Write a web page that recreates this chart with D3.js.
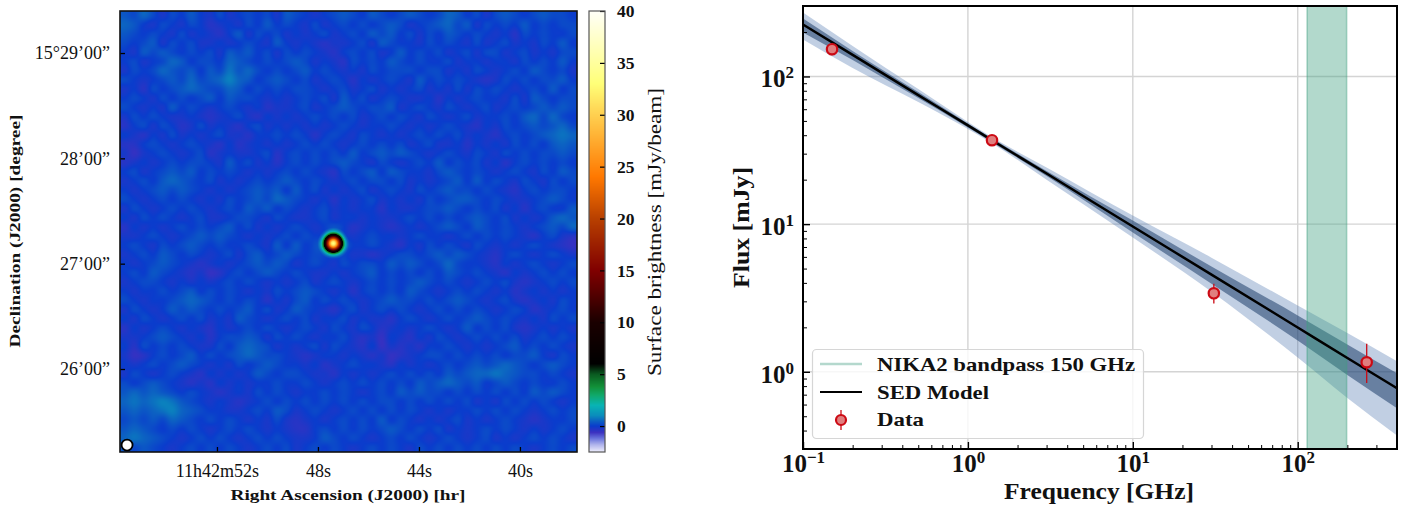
<!DOCTYPE html>
<html><head><meta charset="utf-8">
<script src="https://cdnjs.cloudflare.com/ajax/libs/d3/7.8.5/d3.min.js"></script>
<style>html,body{margin:0;padding:0;background:#fff;overflow:hidden}svg{display:block}text{font-family:"Liberation Serif",serif;fill:#111}</style>
</head><body><svg id="c" width="1415" height="508"></svg>
<script>
// ---- map panel data ----
const raTickSeconds=[52,48,44,40];
const raTickLabels=["11h42m52s","48s","44s","40s"];
const decTickMinutes=[29,28,27,26];
const decTickLabels=["15°29’00”","28’00”","27’00”","26’00”"];
const raExtent=[55.84,37.74];
const decExtent=[29.399,25.212];
const sourceRA=47.39, sourceDec=27.193;
const beamRA=55.56, beamDec=25.278;
const sourceRadiusArcsec=[0,0.57,1.14,1.71,2.28,2.85,3.42,3.99,4.56,5.13,5.7,6.27,6.84,7.41,7.98,9.12,12];
const sourceProfile=[33.5,32.5,31,27.5,24,20,16.5,12.5,9,6.5,4.4,2.9,1.8,1.1,.6,.1,0];
const barTicks=[0,5,10,15,20,25,30,35,40];
const barExtent=[-2.5,40];
const cmapValues=[-2.5,-1.8,-1.2,-0.6,0,0.5,1,2,3,3.8,5,6,10,13,15,20,24,30,33,36,40];
const cmapColors=["#eeeefc","#b0b4ec","#6a74dc","#3a30c0","#0a3ccc","#0c62c2","#0a8cbc","#08b4b4","#10a868","#129038","#0a5a20","#000000","#1a0000","#5a0000","#800000","#b84000","#ff7800","#ffd050","#ffff78","#ffffb0","#fffff8"];
// background brightness read by eye, one digit per cell; digit 3 is 0 mJy/beam, one step is mapStep mJy/beam
const mapRows=[
"546424353242343425432345435434543465342454345443",
"653243243123243534324234343454234564524343534344",
"543432423213524342323423435453424354343231434334",
"434524342232343253232122342543324343242342324353",
"325454343425453424343213434235343423424423423244",
"342346534436543434542321434354343342332332434353",
"243465453547564343453432324344434423243234354342",
"432345464568653454342343132343253434321243434453",
"231434565446534343443234234232342324243432343534",
"343243434535443232343425342343223132343324254344",
"432325343234323122342345434452343243234234345454",
"243432232123421323234343423434324323423343564643",
"134243124232134232323234323343232343213243454564",
"321324232342213343431343243232343434232134345676",
"113432343213123232343432343434234223132324343565",
"202343234123223413434343534545432343243243434454",
"123234344325342313434345432432343534342313434343",
"342345453434323234343214345354332454343234324354",
"234356543423234345434323434434232345353432432434",
"323454543232345453534232342343243454434321343443",
"432343432324345465432313234232324345543432234543",
"243234343234354534323423233132234454343423134335",
"324343234223443243223423323223434343454342323565",
"132323434345342323432343123212323454354343234546",
"223432345454323234343232234332343323434343213421",
"343243454343343253534434334321324343243232343210",
"234354343234245345434323221234434545432134323432",
"323454321232345454234324344354543464332132343234",
"343543212013434543432232345343434354343213234343",
"234432323234343232342343234343454343234342123434",
"323343453434323243454323134343543234343231232323",
"432334565434343132453434323454434345432342123243",
"243235454343453423543213423434323434343234312343",
"324323434232543234342334232213432343454343232434",
"132343232132343432343243243123234323534342123232",
"223454323134454243432334212032132432343434234343",
"314343432243565423234243213021213343232345343432",
"201343453434565443212332321201234434343434453243",
"323434543232434543323123433213232343454565434543",
"243234321323235434432213232343434354566765443432",
"434543212132323343343234343434354565453454343343",
"565654343212324343233434323435454434343434354543",
"676787543232123434343434343443434343423243434323",
"565678654332234354234323434343432323343434323434",
"454546543434323242123234343534323234232343212334",
"565434343234343232113434343454343423234343232343",
"676543234343234343223543432343432343234232343432",
"545432343434323434234343234343243434343434323434"];
const mapStep=0.17, mapZeroDigit=3;
// ---- SED panel data ----
const sedFreq=[0.1,0.2,0.5,1,1.4,3,10,30,100,200,400];
const modelFlux=[225,139.9,74.8,46.6,37,22.0,9.64,4.55,1.995,1.241,0.773];
const outerHi=[271.4,161,82.1,49.2,38.8,24.2,11.44,5.93,2.81,1.83,1.178];
const outerLo=[178.1,114.2,67.1,44.1,35.3,20.0,8.12,3.49,1.249,.665,.371];
const innerHi=[247,148.9,78.4,48.1,38.2,22.9,10.58,5.16,2.41,1.53,.976];
const innerLo=[198.6,129.4,71.4,45.2,35.9,21.2,8.78,3.95,1.63,.952,.566];
const dataFreq=[0.15,1.4,31,262];
const dataFlux=[153,37,3.4,1.16];
const dataLo=[139,35,2.9,0.84];
const dataHi=[168,39,3.95,1.55];
const bandpass=[114,198];
const sedXDomain=[0.1,400], sedYDomain=[0.3,300];
const xMajor=[0.1,1,10,100], xExp=[-1,0,1,2];
const yMajor=[1,10,100], yExp=[0,1,2];
const legendLabels=["NIKA2 bandpass 150 GHz","SED Model","Data"];

const svg=d3.select("#c");
// ---------- MAP ----------
const M={l:120,r:577,t:11,b:452};
const xRA=d3.scaleLinear().domain(raExtent).range([M.l,M.r]);
const yDec=d3.scaleLinear().domain(decExtent).range([M.t,M.b]);
const cmap=d3.scaleLinear().domain(cmapValues).range(cmapColors).interpolate(d3.interpolateRgb).clamp(true);
const srcScale=d3.scaleLinear().domain(sourceRadiusArcsec).range(sourceProfile).clamp(true);
const mapGrid=mapRows.map(r=>Array.from(r,c=>(+c-mapZeroDigit)*mapStep));
const n=mapGrid.length;
function cr(a,b,c,d,t){return b+0.5*t*(c-a+t*(2*a-5*b+4*c-d+t*(3*(b-c)+d-a)));}
function bg(u,v){
  const i=Math.floor(v),j=Math.floor(u),ft=v-i,fu=u-j,g=(r,c)=>mapGrid[Math.max(0,Math.min(n-1,r))][Math.max(0,Math.min(n-1,c))];
  const row=[];for(let a=-1;a<3;a++)row.push(cr(g(i+a,j-1),g(i+a,j),g(i+a,j+1),g(i+a,j+2),fu));
  return cr(row[0],row[1],row[2],row[3],ft);
}
const W=M.r-M.l,H=M.b-M.t;
const cv=document.createElement("canvas");cv.width=W;cv.height=H;
const ctx=cv.getContext("2d"),im=ctx.createImageData(W,H);
const sx=xRA(sourceRA)-M.l,sy=yDec(sourceDec)-M.t;
const pxPerArcsec=(yDec(26)-yDec(27))/60;
const gx=d3.scaleLinear().domain([0,W]).range([-0.5,n-0.5]),gy=d3.scaleLinear().domain([0,H]).range([-0.5,n-0.5]);
for(let y=0;y<H;y++)for(let x=0;x<W;x++){
  const r=Math.hypot(x+.5-sx,y+.5-sy)/pxPerArcsec;
  const v=bg(gx(x+.5),gy(y+.5))+srcScale(r);
  const c=d3.rgb(cmap(v)),k=(y*W+x)*4;
  im.data[k]=c.r;im.data[k+1]=c.g;im.data[k+2]=c.b;im.data[k+3]=255;
}
ctx.putImageData(im,0,0);
svg.append("image").attr("x",M.l).attr("y",M.t).attr("width",W).attr("height",H).attr("href",cv.toDataURL());
svg.append("circle").attr("cx",xRA(beamRA)).attr("cy",yDec(beamDec)).attr("r",5.5).attr("fill","#fff").attr("stroke","#000").attr("stroke-width",1.8);
const mapX=svg.append("g").attr("transform",`translate(0,${M.b})`).call(d3.axisBottom(xRA).tickValues(raTickSeconds).tickSize(-5).tickPadding(12).tickFormat((d,i)=>raTickLabels[i]));
const mapY=svg.append("g").attr("transform",`translate(${M.l},0)`).call(d3.axisLeft(yDec).tickValues(decTickMinutes).tickSize(-5).tickPadding(10).tickFormat((d,i)=>decTickLabels[i]));
[mapX,mapY].forEach(g=>{g.select(".domain").remove();g.selectAll("line").attr("stroke","#000").attr("stroke-width",1.3);g.selectAll("text").attr("font-size",18).attr("font-family",'"Liberation Serif",serif').attr("fill","#222");});
svg.append("rect").attr("x",M.l).attr("y",M.t).attr("width",W).attr("height",H).attr("fill","none").attr("stroke","#111").attr("stroke-width",1.6);
// ---------- COLORBAR ----------
const B={l:589,r:605,t:11,b:452};
const yBar=d3.scaleLinear().domain(barExtent).range([B.b,B.t]);
const cb=document.createElement("canvas");cb.width=1;cb.height=B.b-B.t;
const cbx=cb.getContext("2d");
for(let y=0;y<cb.height;y++){cbx.fillStyle=cmap(yBar.invert(B.t+y+.5));cbx.fillRect(0,y,1,1);}
svg.append("image").attr("x",B.l).attr("y",B.t).attr("width",B.r-B.l).attr("height",B.b-B.t).attr("preserveAspectRatio","none").attr("href",cb.toDataURL());
const barAx=svg.append("g").attr("transform",`translate(${B.r},0)`).call(d3.axisRight(yBar).tickValues(barTicks).tickSize(-5).tickPadding(12));
barAx.select(".domain").remove();
barAx.selectAll("line").attr("stroke","#000").attr("stroke-width",1.2);
barAx.selectAll("text").attr("font-size",17.5).attr("font-weight","bold").attr("font-family",'"Liberation Serif",serif').attr("fill","#222");
svg.append("rect").attr("x",B.l).attr("y",B.t).attr("width",B.r-B.l).attr("height",B.b-B.t).attr("fill","none").attr("stroke","#555").attr("stroke-width",1.2);
function label(t,x,y,size,bold,rot,len){
  const e=svg.append("text").attr("text-anchor","middle").attr("font-size",size).attr("font-weight",bold?"bold":"normal").text(t);
  e.attr("transform",`translate(${x},${y})`+(rot?" rotate(-90)":""));
  if(len)e.attr("textLength",len).attr("lengthAdjust","spacingAndGlyphs");
  return e;
}
label("Surface brightness [mJy/beam]",661,232,18,false,true,288);
label("Right Ascension (J2000) [hr]",348,500,15,true,false,235);
label("Declination (J2000) [degree]",20,231,15,true,true,233);
// ---------- SED ----------
const S={l:803,r:1397,t:6,b:449};
const x=d3.scaleLog().domain(sedXDomain).range([S.l,S.r]);
const y=d3.scaleLog().domain(sedYDomain).range([S.b,S.t]);
const gridG=svg.append("g");
gridG.selectAll("line.v").data(xMajor.slice(1)).join("line").attr("x1",d=>x(d)).attr("x2",d=>x(d)).attr("y1",S.t).attr("y2",S.b).attr("stroke","#d4d4d4").attr("stroke-width",1.4);
gridG.selectAll("line.h").data(yMajor).join("line").attr("x1",S.l).attr("x2",S.r).attr("y1",d=>y(d)).attr("y2",d=>y(d)).attr("stroke","#d4d4d4").attr("stroke-width",1.4);
const idx=d3.range(sedFreq.length);
const area=(lo,hi)=>d3.area().x(i=>x(sedFreq[i])).y0(i=>y(lo[i])).y1(i=>y(hi[i])).curve(d3.curveMonotoneX);
svg.append("path").attr("d",area(outerLo,outerHi)(idx)).attr("fill","#3d6aa8").attr("fill-opacity",.32);
svg.append("path").attr("d",area(innerLo,innerHi)(idx)).attr("fill","#1f3f6b").attr("fill-opacity",.55);
svg.append("rect").attr("x",x(bandpass[0])).attr("width",x(bandpass[1])-x(bandpass[0])).attr("y",S.t).attr("height",S.b-S.t).attr("fill","#3f9f80").attr("fill-opacity",.4).attr("stroke","#3f9f80").attr("stroke-opacity",.4).attr("stroke-width",1.6);
svg.append("path").attr("d",d3.line().x(i=>x(sedFreq[i])).y(i=>y(modelFlux[i])).curve(d3.curveMonotoneX)(idx)).attr("fill","none").attr("stroke","#000").attr("stroke-width",2.5);
const pts=svg.append("g").selectAll("g").data(d3.range(dataFreq.length)).join("g");
pts.append("line").attr("x1",i=>x(dataFreq[i])).attr("x2",i=>x(dataFreq[i])).attr("y1",i=>y(dataLo[i])).attr("y2",i=>y(dataHi[i])).attr("stroke","#cc0a14").attr("stroke-width",1.3);
pts.append("circle").attr("cx",i=>x(dataFreq[i])).attr("cy",i=>y(dataFlux[i])).attr("r",5.2).attr("fill","#e07f7f").attr("stroke","#cc0a14").attr("stroke-width",2.2);
// axes
const xMinor=[];xMajor.forEach(d=>{for(let k=2;k<10;k++){const v=d*k;if(v<=sedXDomain[1])xMinor.push(v);}});
const yMinor=[];[0.1,1,10,100].forEach(d=>{for(let k=2;k<10;k++){const v=d*k;if(v>=sedYDomain[0]&&v<=sedYDomain[1])yMinor.push(v);}});
const ax=(g,axis)=>{g.call(axis);g.select(".domain").remove();g.selectAll("line").attr("stroke","#000");return g;};
ax(svg.append("g").attr("transform",`translate(0,${S.b})`),d3.axisBottom(x).tickValues(xMinor).tickSize(-4).tickFormat("")).selectAll("line").attr("stroke-width",1);
ax(svg.append("g").attr("transform",`translate(${S.l},0)`),d3.axisLeft(y).tickValues(yMinor).tickSize(-4).tickFormat("")).selectAll("line").attr("stroke-width",1);
const xm=ax(svg.append("g").attr("transform",`translate(0,${S.b})`),d3.axisBottom(x).tickValues(xMajor).tickSize(-7).tickPadding(9).tickFormat(""));
const ym=ax(svg.append("g").attr("transform",`translate(${S.l},0)`),d3.axisLeft(y).tickValues(yMajor).tickSize(-7).tickPadding(9).tickFormat(""));
xm.selectAll("line").attr("stroke-width",1.4);ym.selectAll("line").attr("stroke-width",1.4);
function pow(sel,exps,size){sel.selectAll("text").each(function(d,i){
  const t=d3.select(this).text(null).attr("font-size",size).attr("font-weight","bold").attr("font-family",'"Liberation Serif",serif').attr("fill","#111");
  t.append("tspan").text("10");
  t.append("tspan").attr("font-size",size*.68).attr("dy",-9).text(String(exps[i]).replace("-","−"));
});}
pow(xm,xExp,25);pow(ym,yExp,25);
xm.selectAll("text").attr("y",5).attr("dy","0.71em");
ym.selectAll("text").attr("dy","0.42em");
svg.append("rect").attr("x",S.l).attr("y",S.t).attr("width",S.r-S.l).attr("height",S.b-S.t).attr("fill","none").attr("stroke","#000").attr("stroke-width",2);
label("Frequency [GHz]",1099,499,23,true,false,190);
label("Flux [mJy]",749,227.5,23,true,true,121);
// legend
const L=svg.append("g");
L.append("rect").attr("x",812.5).attr("y",349.5).attr("width",331).attr("height",89).attr("rx",4).attr("fill","#fff").attr("fill-opacity",.8).attr("stroke","#d6d6d6").attr("stroke-width",1.2);
L.append("line").attr("x1",820).attr("x2",862).attr("y1",364).attr("y2",364).attr("stroke","#b4d8cd").attr("stroke-width",2.6);
L.append("line").attr("x1",820).attr("x2",862).attr("y1",392).attr("y2",392).attr("stroke","#000").attr("stroke-width",2.2);
L.append("line").attr("x1",841).attr("x2",841).attr("y1",410).attr("y2",430).attr("stroke","#cc0a14").attr("stroke-width",1.3);
L.append("circle").attr("cx",841).attr("cy",420).attr("r",5).attr("fill","#e07f7f").attr("stroke","#cc0a14").attr("stroke-width",2.2);
[[371,258],[399,112],[426,47]].forEach((p,i)=>{
  L.append("text").attr("x",877).attr("y",p[0]).attr("font-size",19).attr("font-weight","bold").attr("textLength",p[1]).attr("lengthAdjust","spacingAndGlyphs").text(legendLabels[i]);
});
</script></body></html>
